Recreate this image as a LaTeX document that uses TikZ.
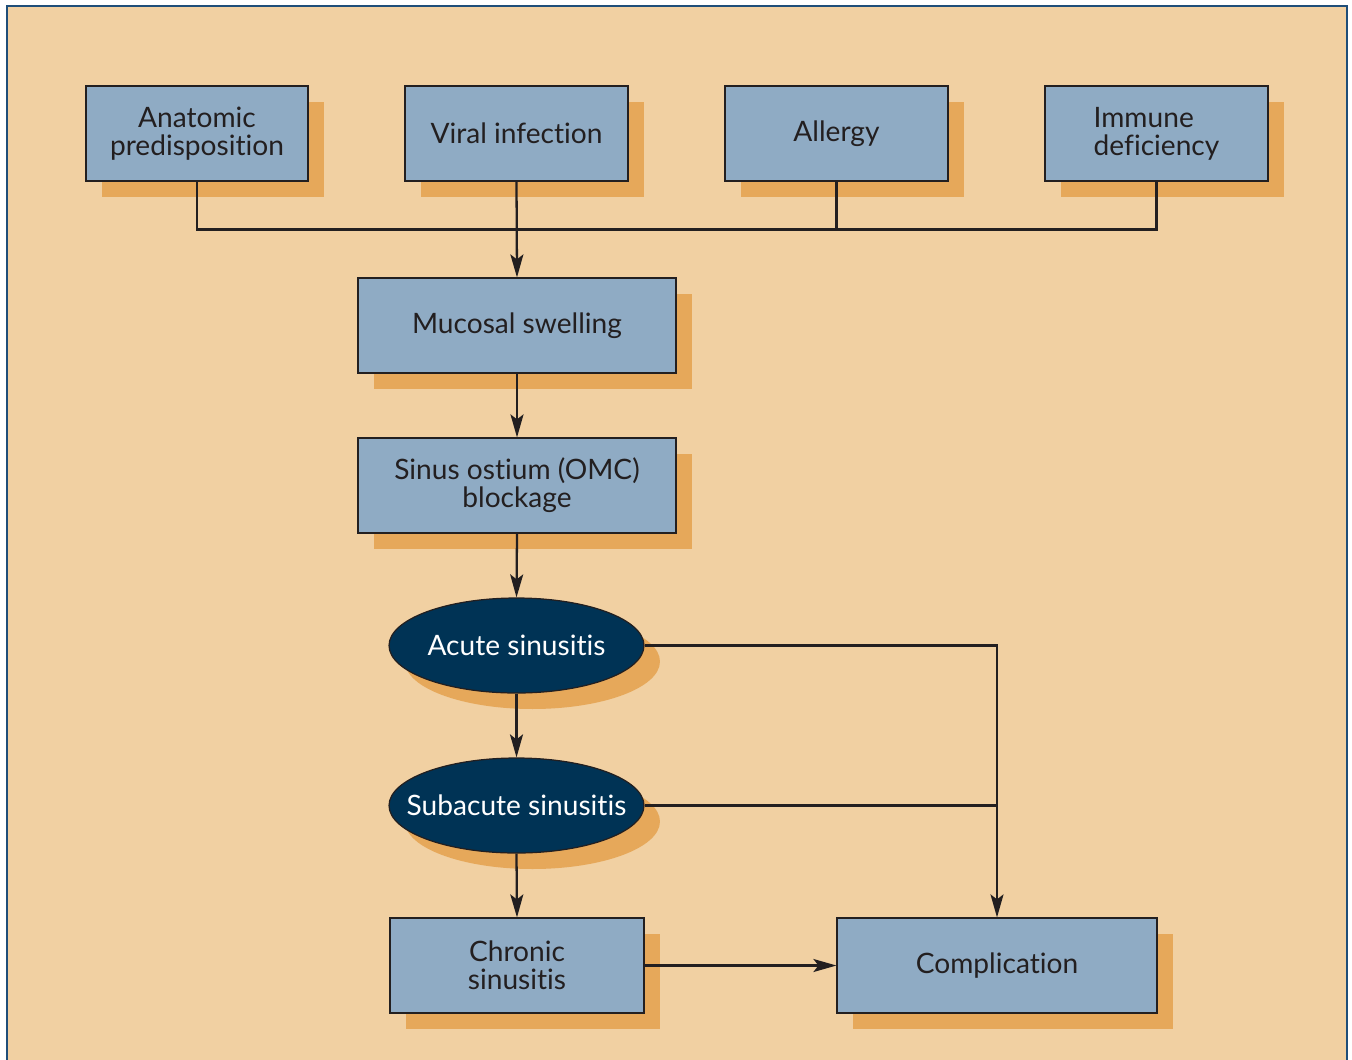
\documentclass[tikz,border=0pt]{standalone}
\usepackage{fontspec}
\setmainfont{Lato}[Ligatures=NoCommon]
\usetikzlibrary{arrows.meta,shapes.geometric,shadows}
\definecolor{bgpeach}{HTML}{F1D0A2}
\definecolor{boxblue}{HTML}{8FABC4}
\definecolor{shadeorange}{HTML}{E6A85A}
\definecolor{navy}{HTML}{003355}
\definecolor{frameblue}{HTML}{1F4E79}
\definecolor{ink}{HTML}{231F20}
\tikzset{
  orangeshadow/.style={drop shadow={shadow xshift=0.32cm,shadow yshift=-0.32cm,fill=shadeorange,opacity=1}},
  factor/.style={rectangle,draw=ink,line width=0.7pt,fill=boxblue,text=ink,
    minimum height=1.9cm,inner sep=0pt,align=center,
    font=\fontsize{16}{16}\selectfont,orangeshadow},
  stage/.style={ellipse,draw=ink,line width=0.7pt,fill=navy,text=white,
    minimum width=5.1cm,minimum height=1.9cm,inner xsep=-2cm,inner ysep=-1cm,
    font=\fontsize{16}{16}\selectfont,orangeshadow},
  link/.style={draw=ink,line width=1.3pt},
  arr/.style={link,-{Stealth[length=0.46cm,width=0.26cm,inset=0.1cm]}}
}
\begin{document}
\begin{tikzpicture}[x=0.02cm,y=-0.02cm]
      \useasboundingbox[fill=white] (0,0) rectangle (1352,1059);
      \fill[bgpeach] (7,6) rectangle (1347,1070);
      \draw[frameblue,line width=1.1pt] (7,1070) -- (7,6) -- (1347,6) -- (1347,1070);
      % causes
      \node[factor,minimum width=4.44cm] (anat) at (197,133.5) {Anatomic\\predisposition};
      \node[factor,minimum width=4.46cm] (vir) at (516.5,133.5) {Viral infection};
      \node[factor,minimum width=4.46cm] (all) at (836.5,133.5) {Allergy};
      \node[factor,minimum width=4.46cm,align=left] (imm) at (1156.5,133.5) {Immune\\deficiency};
      % pathway
      \node[factor,minimum width=6.36cm] (muc) at (517,325.5) {Mucosal swelling};
      \node[factor,minimum width=6.36cm] (sin) at (517,485.5) {Sinus ostium (OMC)\\blockage};
      \node[stage] (acu) at (516.5,645.5) {Acute sinusitis};
      \node[stage] (sub) at (516.5,805.5) {Subacute sinusitis};
      \node[factor,minimum width=5.08cm] (chr) at (517,965.5) {Chronic\\sinusitis};
      \node[factor,minimum width=6.4cm] (comp) at (997,965.5) {Complication};
      \begin{scope}[link]
        \draw (anat.south) -- ++(0,48) coordinate (bus) -| (imm.south);
        \draw (all.south) -- (all.south |- bus);
        \draw (sub.east) -- (sub.east -| comp.north);
      \end{scope}
      \begin{scope}[arr]
        \draw (vir.south) -- (muc.north);
        \draw (muc.south) -- (sin.north);
        \draw (sin.south) -- (acu.north);
        \draw (acu.south) -- (sub.north);
        \draw (sub.south) -- (chr.north);
        \draw (acu.east) -| (comp.north);
        \draw (chr.east) -- (comp.west);
      \end{scope}
    \end{tikzpicture}
\end{document}
